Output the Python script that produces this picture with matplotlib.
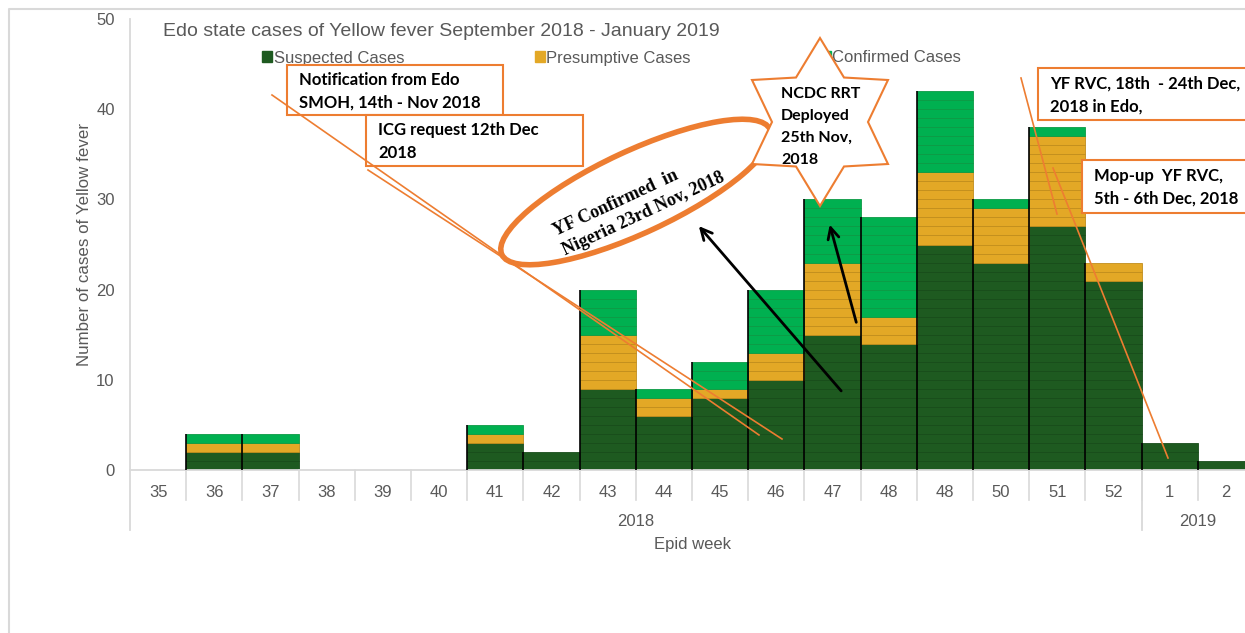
import numpy as np
import matplotlib.pyplot as plt
from matplotlib.patches import Rectangle, Ellipse, Polygon

weeks = ["35", "36", "37", "38", "39", "40", "41", "42", "43", "44",
         "45", "46", "47", "48", "48", "50", "51", "52", "1", "2"]
suspected = [0, 2, 2, 0, 0, 0, 3, 2, 9, 6, 8, 10, 15, 14, 25, 23, 27, 21, 3, 1]
presumptive = [0, 1, 1, 0, 0, 0, 1, 0, 6, 2, 1, 3, 8, 3, 8, 6, 10, 2, 0, 0]
confirmed = [0, 1, 1, 0, 0, 0, 1, 0, 5, 1, 3, 7, 7, 11, 9, 1, 1, 0, 0, 0]
years = ["2018", "2019"]
year_counts = [18, 2]
series_names = ["Suspected Cases", "Presumptive Cases", "Confirmed Cases"]

COLORS = ["#1E5A20", "#E3A826", "#00B050"]
LINES = ["#184c1a", "#c18d1c", "#0c9a44"]
ORANGE = "#ED7D31"
GRAY = "#595959"
LIGHT = "#d9d9d9"

W, H = 1245, 633
fig = plt.figure(figsize=(W / 100, H / 100), dpi=100)
plt.rcParams["font.family"] = ["Liberation Sans", "DejaVu Sans"]

# main axes, right edge goes past the picture like the cropped original
left, right, top, bottom = 130, 1254, 19, 470
ax = fig.add_axes([left / W, 1 - bottom / H, (right - left) / W, (bottom - top) / H])
ax.set_xlim(-0.5, len(weeks) - 0.5)
ax.set_ylim(0, 50)

x = np.arange(len(weeks))
base = np.zeros(len(weeks))
for vals, col, lc in zip([suspected, presumptive, confirmed], COLORS, LINES):
    for i, v in enumerate(vals):
        for k in range(v):
            ax.bar(x[i], 1, width=1.0, bottom=base[i] + k, color=col,
                   edgecolor=lc, linewidth=0.6, zorder=2)
    base += np.array(vals)
for i, tot in enumerate(base):
    if tot > 0:
        ax.vlines(x[i] - 0.5, 0, tot, color="black", linewidth=1.2, zorder=3)

for s in ["top", "right"]:
    ax.spines[s].set_visible(False)
ax.spines["bottom"].set_color(LIGHT)
ax.spines["left"].set_color(LIGHT)
ax.spines["bottom"].set_linewidth(1.3)
ax.spines["left"].set_linewidth(1.3)
ax.set_yticks(range(0, 51, 10))
ax.tick_params(axis="y", length=0, pad=11, labelsize=12, labelcolor=GRAY)
ax.set_xticks(x)
ax.set_xticklabels(weeks)
ax.tick_params(axis="x", length=0, pad=11, labelsize=12, labelcolor=GRAY)
ax.set_ylabel("Number of cases of Yellow fever", fontsize=12.2, color=GRAY, labelpad=3)

# category separators and year groups
trans = ax.get_xaxis_transform()
ax_h = bottom - top
for i in range(1, len(weeks)):
    ax.plot([i - 0.5, i - 0.5], [0, -30 / ax_h], color=LIGHT, lw=1.2,
            transform=trans, clip_on=False)
start = 0
for yr, n in zip(years, year_counts):
    ax.plot([start - 0.5, start - 0.5], [0, -60 / ax_h], color=LIGHT, lw=1.3,
            transform=trans, clip_on=False)
    ax.text(start + (n - 1) / 2, -51 / ax_h, yr, transform=trans, ha="center",
            va="center", fontsize=12, color=GRAY)
    start += n
ax.text(0.5, -74 / ax_h, "Epid week", transform=ax.transAxes, ha="center",
        va="center", fontsize=12, color=GRAY)

handles = [Rectangle((0, 0), 1, 1, color=c) for c in COLORS]
ax.legend(handles, series_names, ncol=3, loc="center left",
          bbox_to_anchor=(254 / W, 1 - 58 / H), bbox_transform=fig.transFigure,
          frameon=False, fontsize=12, labelcolor=GRAY, handlelength=0.6,
          handleheight=0.6, handletextpad=0.1, columnspacing=7.8, borderpad=0)

fig.text(163 / W, 1 - 31 / H, "Edo state cases of Yellow fever September 2018 - January 2019",
         ha="left", va="center", fontsize=14, color=GRAY)

# overlay in pixel coordinates for the callouts
ov = fig.add_axes([0, 0, 1, 1])
ov.set_xlim(0, W)
ov.set_ylim(H, 0)
ov.axis("off")
ov.patch.set_visible(False)

ov.plot([9, 9, W], [H, 9, 9], color=LIGHT, lw=1.5)

ov.plot([272, 759], [95, 435], color=ORANGE, lw=1.2)
ov.plot([368, 782], [170, 439], color=ORANGE, lw=1.2)
ov.plot([1021, 1057], [78, 214], color=ORANGE, lw=1.2)
ov.plot([1053, 1168], [168, 458], color=ORANGE, lw=1.2)

bold = dict(fontweight="bold", family=["Lato", "DejaVu Sans"],
            ha="left", va="center", color="black")
boxes = [
    (287, 65, 216, 50, "Notification from Edo\nSMOH, 14th - Nov 2018"),
    (366, 115, 217, 51, "ICG request 12th Dec\n2018"),
    (1038, 68, 214, 52, "YF RVC, 18th  - 24th Dec,\n2018 in Edo,"),
    (1082, 160, 170, 53, "Mop-up  YF RVC,\n5th - 6th Dec, 2018"),
]
for bx, by, bw, bh, txt in boxes:
    ov.add_patch(Rectangle((bx, by), bw, bh, facecolor="white", edgecolor=ORANGE, lw=1.5))
    ov.text(bx + 12, by + bh / 2 + 1, txt, fontsize=12, linespacing=1.5, **bold)

ov.add_patch(Ellipse((636, 192), 296, 82, angle=-25, facecolor="white",
                     edgecolor=ORANGE, lw=4))
ov.text(639, 204, "YF Confirmed  in\nNigeria 23rd Nov, 2018", rotation=25,
        ha="center", va="center", multialignment="left", fontsize=13,
        fontweight="bold", family=["Liberation Serif"], linespacing=1.3,
        rotation_mode="anchor")

ang = np.radians(90 + 30 * np.arange(12))
r = np.where(np.arange(12) % 2 == 0, 78.5, 48)
star = np.column_stack([820 + r * np.cos(ang), 122 - 1.07 * r * np.sin(ang)])
ov.add_patch(Polygon(star, closed=True, facecolor="white", edgecolor=ORANGE, lw=1.5))
ov.text(781, 127, "NCDC RRT\nDeployed\n25th Nov,\n2018", fontsize=11.5,
        linespacing=1.7, **bold)

arrow = dict(arrowstyle="->", color="black", lw=2, mutation_scale=20)
ov.annotate("", xy=(697, 224), xytext=(843, 393), arrowprops=arrow)
ov.annotate("", xy=(829, 222), xytext=(857, 325), arrowprops=arrow)

fig.savefig("out.png", dpi=100)
